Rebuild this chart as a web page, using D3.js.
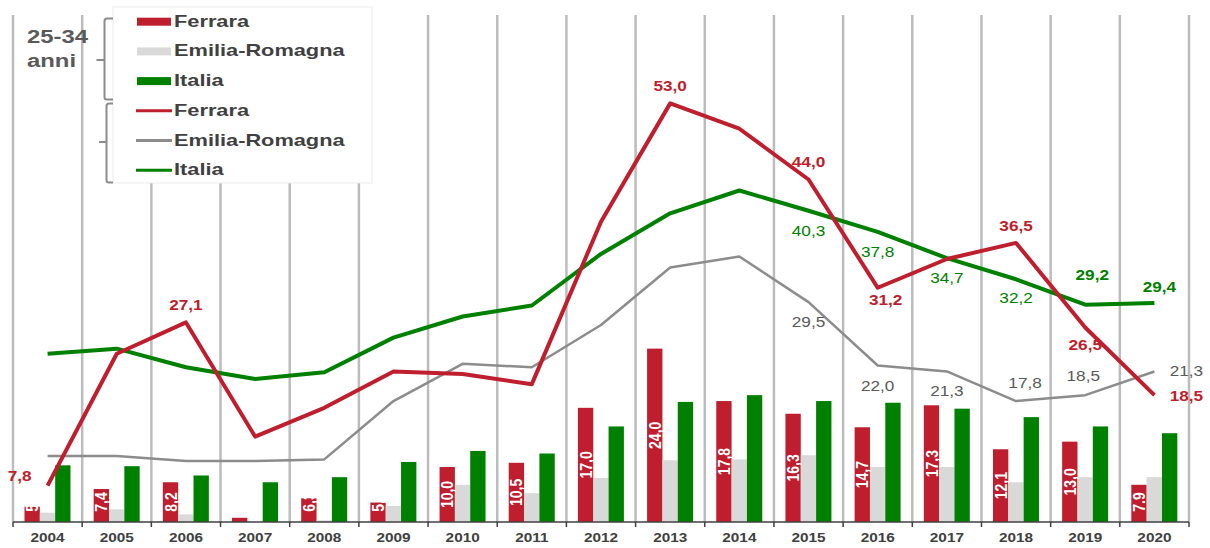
<!DOCTYPE html>
<html>
<head>
<meta charset="utf-8">
<script src="https://cdn.jsdelivr.net/npm/d3@7"></script>
<style>
body{margin:0;background:#fff;}
text{font-family:"Liberation Sans",Arial,sans-serif;}
</style>
</head>
<body>
<script>
// data
var years = ["2004","2005","2006","2007","2008","2009","2010","2011","2012","2013","2014","2015","2016","2017","2018","2019","2020"];
var ferraraBars = [5.3,7.4,8.2,4.0,6.3,5.8,10.0,10.5,17.0,24.0,17.8,16.3,14.7,17.3,12.1,13.0,7.9];
var emiliaBars  = [4.6,5.0,4.4,3.4,3.7,5.4,7.9,6.9,8.7,10.8,10.9,11.4,10.0,10.0,8.2,8.8,8.8];
var italiaBars  = [10.2,10.1,9.0,8.2,8.8,10.6,11.9,11.6,14.8,17.7,18.5,17.8,17.6,16.9,15.9,14.8,14.0];
var ferraraLine = [7.8,23.4,27.1,13.6,17.0,21.3,21.0,19.8,39.0,53.0,50.0,44.0,31.2,34.6,36.5,26.5,18.5];
var emiliaLine  = [11.3,11.3,10.7,10.7,10.9,17.8,22.2,21.8,26.8,33.6,34.9,29.5,22.0,21.3,17.8,18.5,21.3];
var italiaLine  = [23.4,24.0,21.8,20.4,21.2,25.3,27.8,29.1,35.2,40.0,42.7,40.3,37.8,34.7,32.2,29.2,29.4];
var legendNames = ["Ferrara","Emilia-Romagna","Italia"];

var red = "#be1e2d", grey = "#d9d9d9", green = "#008000", greyLine = "#8c8c8c", txt = "#404040";

// which points get a value label, and where (dx, dy from the point)
var ferraraLabelAt = {"2004":[-28,-5],"2006":[0,-12],"2013":[0,-12],"2015":[0,-12],"2016":[8,17],"2018":[0,-12],"2019":[0,23],"2020":[32,6]};
var emiliaLabelAt  = {"2015":[0,25],"2016":[0,25],"2017":[0,25],"2018":[9,-13],"2019":[-2,-14],"2020":[32,5]};
var italiaLabelAt  = {"2015":[0,25],"2016":[0,25],"2017":[0,25],"2018":[0,24],"2019":[7,-25],"2020":[5,-11]};

var W = 1210, H = 548;
var svg = d3.select("body").append("svg").attr("width",W).attr("height",H);

var x = d3.scaleBand().domain(years).range([13,1189]);
var xIn = d3.scaleBand().domain(["f","e","i"]).range([11.5,57.5]);
var y = d3.scaleLinear().domain([3.5,63.45]).range([522,15]);

function fmt(v){ return d3.format(".1f")(v).replace(".",","); }
function cx(i){ return x(years[i]) + x.bandwidth()/2; }

// vertical gridlines
var bounds = years.map(function(d){ return x(d); }).concat([x.range()[1]]);
svg.append("g").selectAll("line").data(bounds).enter().append("line")
   .attr("x1",function(d){return d;}).attr("x2",function(d){return d;})
   .attr("y1",15).attr("y2",522)
   .attr("stroke","#bcbcbc").attr("stroke-width",2.5);

// bars
var barSets = [{k:"f",v:ferraraBars,c:red},{k:"e",v:emiliaBars,c:grey},{k:"i",v:italiaBars,c:green}];
barSets.forEach(function(s){
  svg.append("g").selectAll("rect").data(s.v).enter().append("rect")
     .attr("x",function(d,i){ return x(years[i]) + xIn(s.k); })
     .attr("width",xIn.bandwidth())
     .attr("y",function(d){ return Math.min(y(d),522); })
     .attr("height",function(d){ return Math.max(0,522-y(d)); })
     .attr("fill",s.c);
});

// bar labels (Ferrara), rotated
svg.append("g").selectAll("text").data(ferraraBars).enter().append("text")
   .attr("transform",function(d,i){
      var bx = x(years[i]) + xIn("f") + xIn.bandwidth()/2;
      var by = Math.min((y(d)+522)/2, 502);
      return "translate("+bx+","+by+") rotate(-90) scale(1,1.2)";
   })
   .attr("text-anchor","middle").attr("dy","0.36em")
   .attr("font-size",14).attr("font-weight","bold").attr("fill","#fff")
   .text(function(d,i){ return i===16 ? d3.format(".1f")(d) : fmt(d); });

// axis
svg.append("line").attr("x1",13).attr("x2",1189).attr("y1",522).attr("y2",522)
   .attr("stroke",txt).attr("stroke-width",1.5);
svg.append("g").selectAll("line").data(bounds).enter().append("line")
   .attr("x1",function(d){return d;}).attr("x2",function(d){return d;})
   .attr("y1",522).attr("y2",527).attr("stroke",txt).attr("stroke-width",1.5);
svg.append("g").selectAll("text").data(years).enter().append("text")
   .attr("transform",function(d,i){ return "translate("+cx(i)+",542) scale(1.18,1)"; })
   .attr("text-anchor","middle").attr("font-size",13).attr("font-weight","bold").attr("fill",txt)
   .text(function(d){ return d; });

// lines
var line = d3.line().x(function(d,i){ return cx(i); }).y(function(d){ return y(d); });
[{v:emiliaLine,c:greyLine,w:2.5},{v:italiaLine,c:green,w:4},{v:ferraraLine,c:red,w:4}].forEach(function(s){
  svg.append("path").datum(s.v).attr("d",line)
     .attr("fill","none").attr("stroke",s.c).attr("stroke-width",s.w)
     .attr("stroke-linejoin","round");
});

// line value labels
function lineLabels(vals, place, color, boldYears){
  var idx = years.map(function(d,i){ return i; }).filter(function(i){ return place[years[i]]; });
  svg.append("g").selectAll("text").data(idx).enter().append("text")
     .attr("transform",function(i){
        var o = place[years[i]];
        return "translate("+(cx(i)+o[0])+","+(y(vals[i])+o[1])+") scale(1.11,1)";
     })
     .attr("text-anchor","middle").attr("font-size",15.5)
     .attr("font-weight",function(i){ return boldYears.indexOf(years[i])>=0 ? "bold" : "normal"; })
     .attr("fill",color)
     .text(function(i){ return fmt(vals[i]); });
}
lineLabels(ferraraLine, ferraraLabelAt, red, years);
lineLabels(emiliaLine, emiliaLabelAt, "#595959", []);
lineLabels(italiaLine, italiaLabelAt, green, ["2019","2020"]);

// legend
svg.append("rect").attr("x",113).attr("y",7).attr("width",259).attr("height",176)
   .attr("fill","#fff").attr("stroke","#ececec").attr("stroke-width",1);
var legColors = [red,grey,green];
var rowY = function(r){ return 26.7 + r*29.7; };
legendNames.forEach(function(n,r){
  svg.append("rect").attr("x",137).attr("y",rowY(r)-9).attr("width",34).attr("height",8).attr("fill",legColors[r]);
  svg.append("line").attr("x1",136).attr("x2",172).attr("y1",rowY(r+3)-5).attr("y2",rowY(r+3)-5)
     .attr("stroke",[red,greyLine,green][r]).attr("stroke-width",3);
});
legendNames.concat(legendNames).forEach(function(n,r){
  svg.append("text").attr("transform","translate(174,"+rowY(r)+") scale(1.32,1)")
     .attr("font-size",16.5).attr("font-weight","bold").attr("fill",txt).text(n);
});

// brackets
var br = svg.append("g").attr("fill","none").attr("stroke","#8c8c8c").attr("stroke-width",2);
br.append("path").attr("d","M113,18.5 L107,18.5 Q104.5,18.5 104.5,21 L104.5,97 Q104.5,99.5 107,99.5 L113,99.5 M104.5,60 L96.5,60");
br.append("path").attr("d","M113,103.5 L109,103.5 Q106.5,103.5 106.5,106 L106.5,180 Q106.5,182.5 109,182.5 L113,182.5 M106.5,142 L99,142");

svg.append("text").attr("transform","translate(27,43.3) scale(1.29,1)")
   .attr("font-size",18.5).attr("font-weight","bold").attr("fill","#595959").text("25-34");
svg.append("text").attr("transform","translate(27,67) scale(1.29,1)")
   .attr("font-size",18.5).attr("font-weight","bold").attr("fill","#595959").text("anni");
</script>
</body>
</html>
